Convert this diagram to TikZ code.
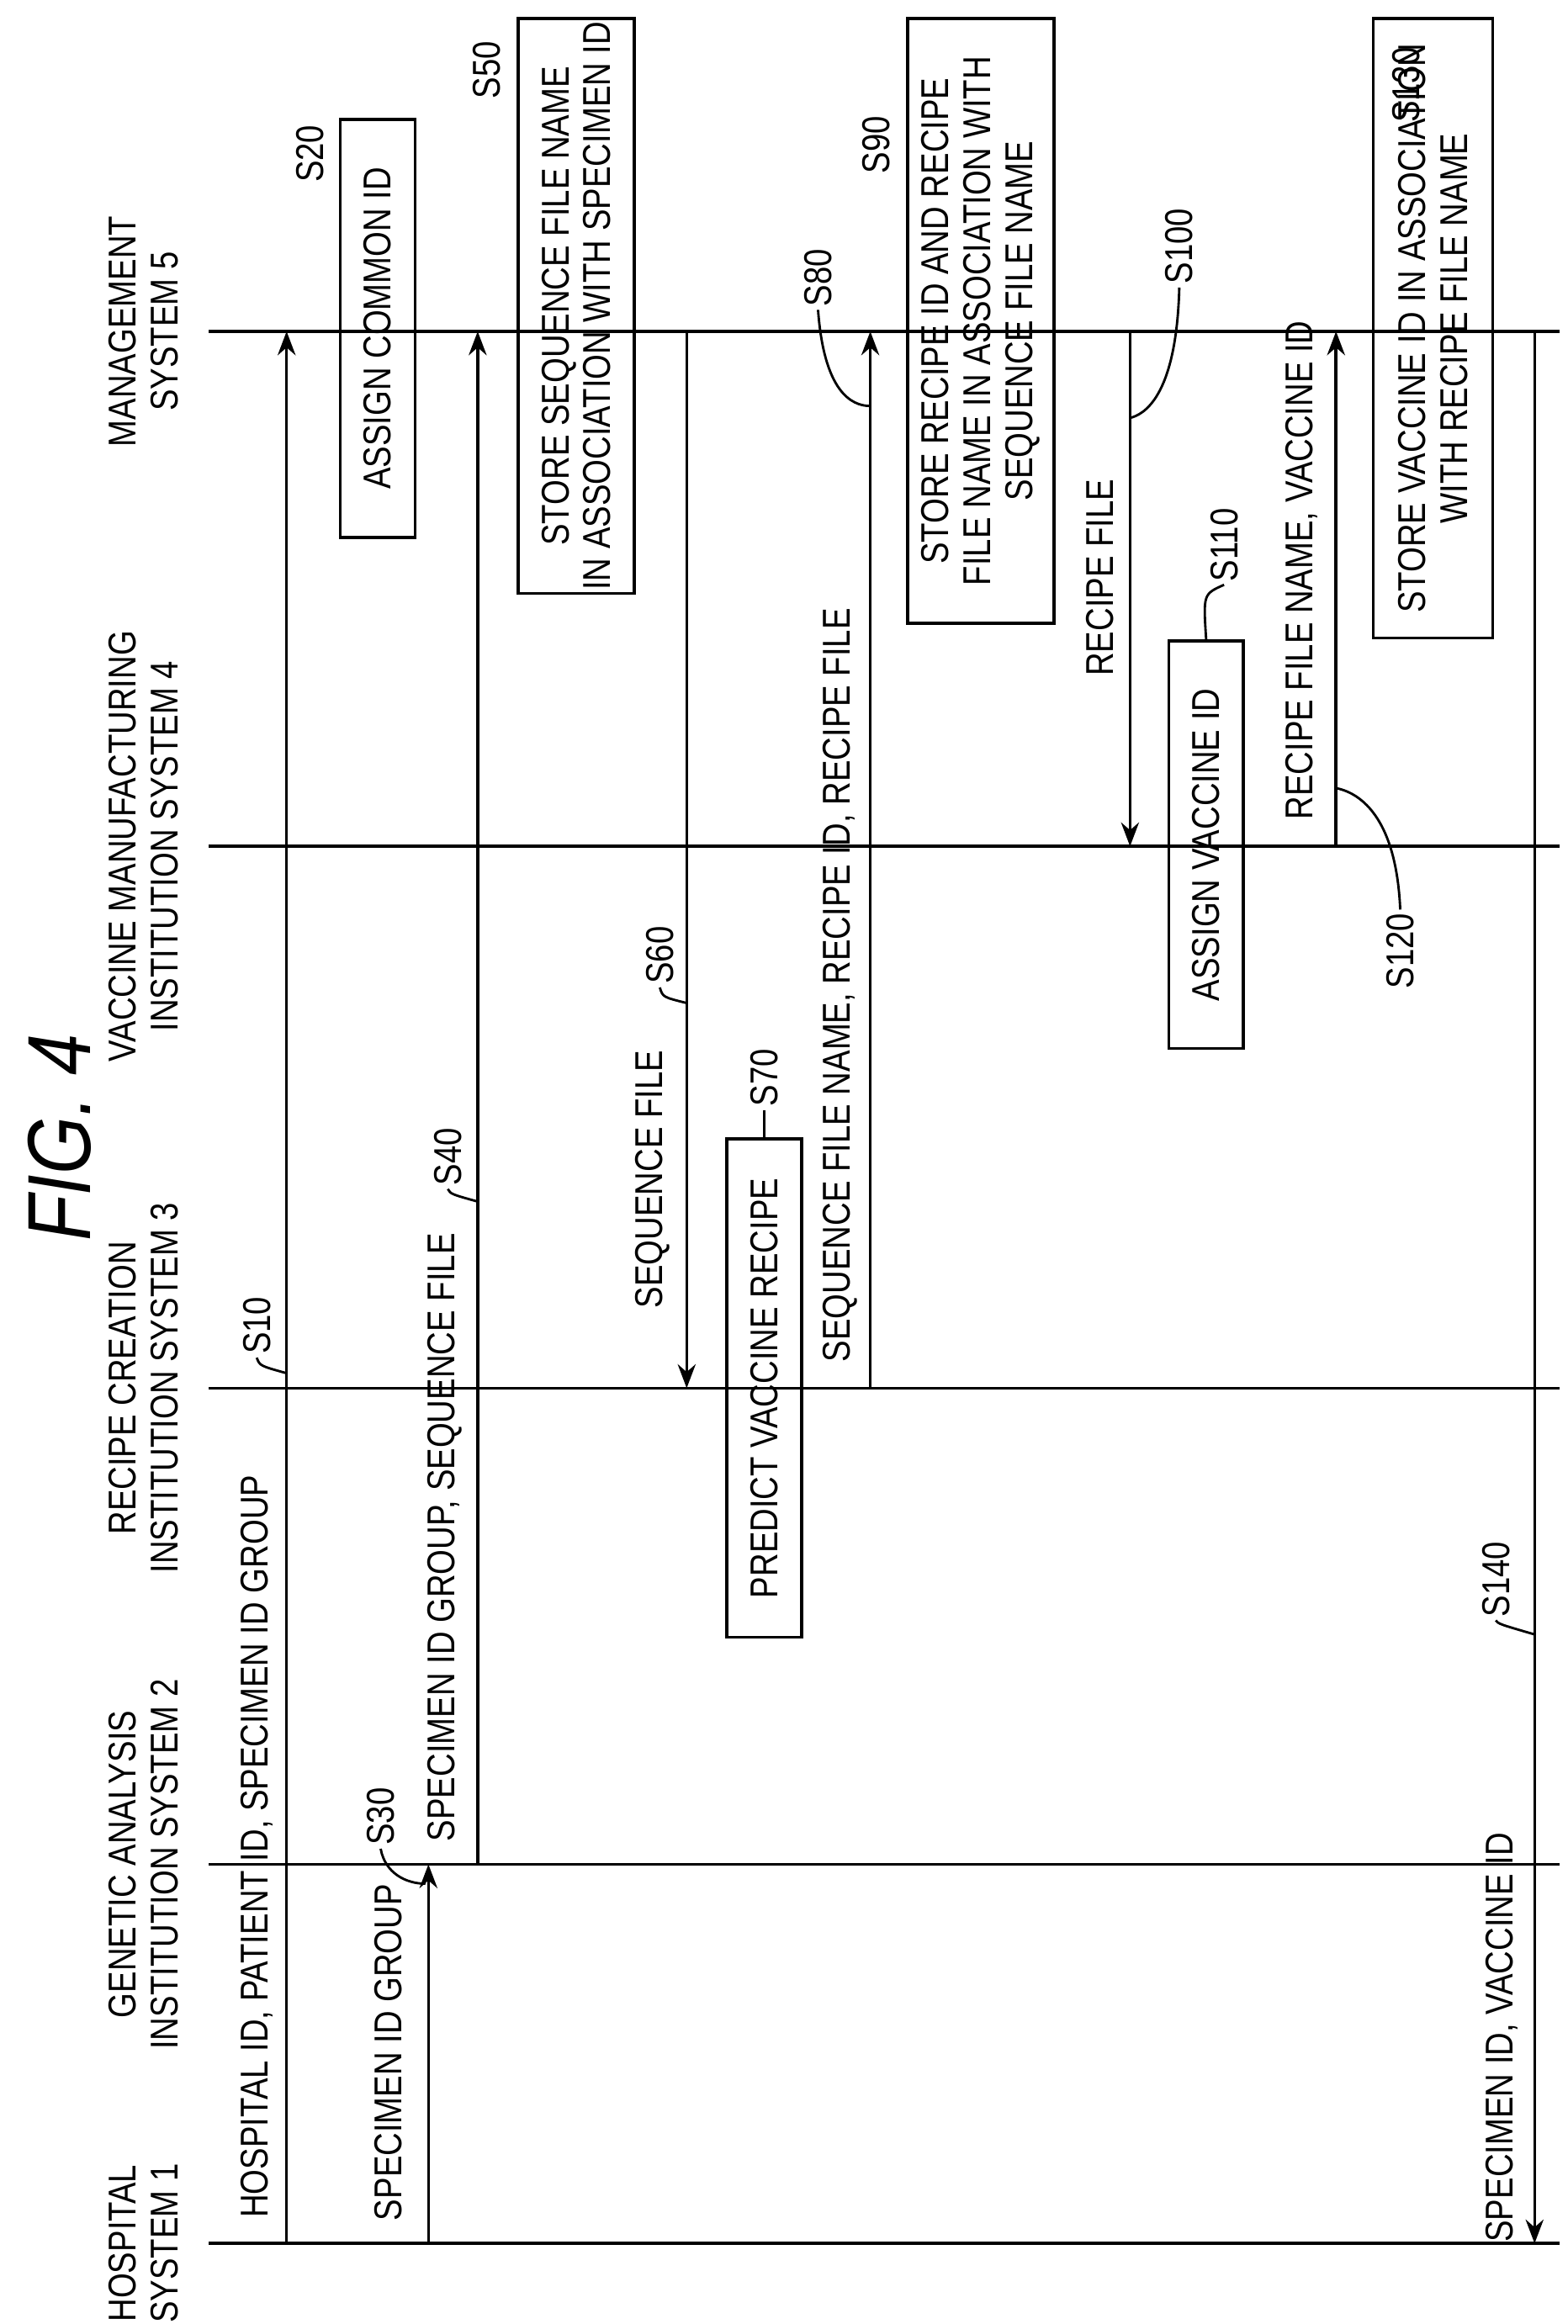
\documentclass[tikz,border=0pt]{standalone}
\usepackage{fontspec}
\setmainfont[FakeStretch=0.83]{Liberation Sans}
\usetikzlibrary{arrows.meta}
\begin{document}
\begin{tikzpicture}[x=0.5pt,y=-0.5pt,
  life/.style={line width=1pt},
  msg/.style={line width=1pt,-{Stealth[length=8pt,width=6pt]}},
  lbl/.style={rotate=90,font=\fontsize{13}{14}\selectfont,align=center,inner sep=1pt},
  stp/.style={rotate=90,font=\fontsize{13}{14}\selectfont,inner sep=1pt},
  procbox/.style={draw,line width=1pt,rotate=90,font=\fontsize{13}{14}\selectfont,align=center,inner sep=0pt},
  lead/.style={line width=0.8pt}]
\useasboundingbox (0,0) rectangle (1050,1557);
% title
\node[rotate=90,font=\fontsize{30}{32}\selectfont\itshape] (fig) at (40,762) {FIG. 4};
% lifelines
\foreach \n/\y in {h/1503,g/1249,r/930,v/567,m/222}{
  \coordinate (\n0) at (140,\y); \coordinate (\n1) at (1045,\y);
  \draw[life] (\n0) -- (\n1);}
\node[lbl] (Lh) at (96,1503) {HOSPITAL\\SYSTEM 1};
\node[lbl] (Lg) at (96,1249) {GENETIC ANALYSIS\\INSTITUTION SYSTEM 2};
\node[lbl] (Lr) at (96,930) {RECIPE CREATION\\INSTITUTION SYSTEM 3};
\node[lbl] (Lv) at (96,567) {VACCINE MANUFACTURING\\INSTITUTION SYSTEM 4};
\node[lbl] (Lm) at (96,222) {MANAGEMENT\\SYSTEM 5};
% message endpoints
\foreach \n/\x/\a/\b in {s10/192/1503/222,s30/287/1503/1249,s40/320/1249/222,s60/460/222/930,s80/583/930/222,s100/757/222/567,s120/895/567/222,s140/1028/222/1503}{
  \coordinate (\n a) at (\x,\a); \coordinate (\n b) at (\x,\b);
  \draw[msg] (\n a) -- (\n b);}
% message labels
\node[lbl] (t10) at (172,1237) {HOSPITAL ID, PATIENT ID, SPECIMEN ID GROUP};
\node[lbl] (t30) at (260,1375) {SPECIMEN ID GROUP};
\node[lbl] (t40) at (298,1030) {SPECIMEN ID GROUP, SEQUENCE FILE};
\node[lbl] (t60) at (437,790) {SEQUENCE FILE};
\node[lbl] (t80) at (563,660) {SEQUENCE FILE NAME, RECIPE ID, RECIPE FILE};
\node[lbl] (t100) at (737,387) {RECIPE FILE};
\node[lbl] (t120) at (872,382) {RECIPE FILE NAME, VACCINE ID};
\node[lbl] (t140) at (1006,1365) {SPECIMEN ID, VACCINE ID};
% boxes
\node[procbox,minimum width=140pt,minimum height=25pt] (b20) at (253,220) {ASSIGN COMMON ID};
\node[procbox,minimum width=192.5pt,minimum height=39pt] (b50) at (386,205) {STORE SEQUENCE FILE NAME\\IN ASSOCIATION WITH SPECIMEN ID};
\node[procbox,minimum width=167pt,minimum height=25pt] (b70) at (512,930) {PREDICT VACCINE RECIPE};
\node[procbox,minimum width=202.5pt,minimum height=49pt] (b90) at (657,215) {STORE RECIPE ID AND RECIPE\\FILE NAME IN ASSOCIATION WITH\\SEQUENCE FILE NAME};
\node[procbox,minimum width=136.5pt,minimum height=25pt] (b110) at (808,566) {ASSIGN VACCINE ID};
\node[procbox,minimum width=207.5pt,minimum height=40pt] (b130) at (960,220) {STORE VACCINE ID IN ASSOCIATION\\WITH RECIPE FILE NAME};
% step labels
\node[stp] (n10) at (172,888) {S10};
\node[stp] (n20) at (208,103) {S20};
\node[stp] (n30) at (255,1217) {S30};
\node[stp] (n40) at (300,775) {S40};
\node[stp] (n50) at (326,47) {S50};
\node[stp] (n60) at (442,640) {S60};
\node[stp] (n70) at (512,722) {S70};
\node[stp] (n80) at (548,186) {S80};
\node[stp] (n90) at (587,97) {S90};
\node[stp] (n100) at (790,165) {S100};
\node[stp] (n110) at (820,365) {S110};
\node[stp] (n120) at (938,637) {S120};
\node[stp] (n130) at (942,57) {S130};
\node[stp] (n140) at (1002,1058) {S140};
% leaders
\coordinate (k10) at (192,920); \draw[lead] (n10.west) .. controls (174,915) .. (k10);
\coordinate (k30) at (285,1262); \draw[lead] (n30.west) .. controls (258,1255) and (272,1262) .. (k30);
\coordinate (k40) at (320,805); \draw[lead] (n40.west) .. controls (302,800) .. (k40);
\coordinate (k60) at (460,672); \draw[lead] (n60.west) .. controls (444,668) .. (k60);
\draw[lead] (n70.west) .. controls (512,752) .. (b70.east);
\coordinate (k80) at (583,272); \draw[lead] (n80.west) .. controls (552,262) and (570,272) .. (k80);
\coordinate (k100) at (757,280); \draw[lead] (n100.west) .. controls (788,268) and (765,278) .. (k100);
\draw[lead] (n110.west) .. controls (806,398) .. (b110.east);
\coordinate (k120) at (895,528); \draw[lead] (n120.east) .. controls (935,540) and (905,530) .. (k120);
\coordinate (k140) at (1028,1095) ; \draw[lead] (n140.west) .. controls (1004,1088) .. (k140);
\end{tikzpicture}
\end{document}
